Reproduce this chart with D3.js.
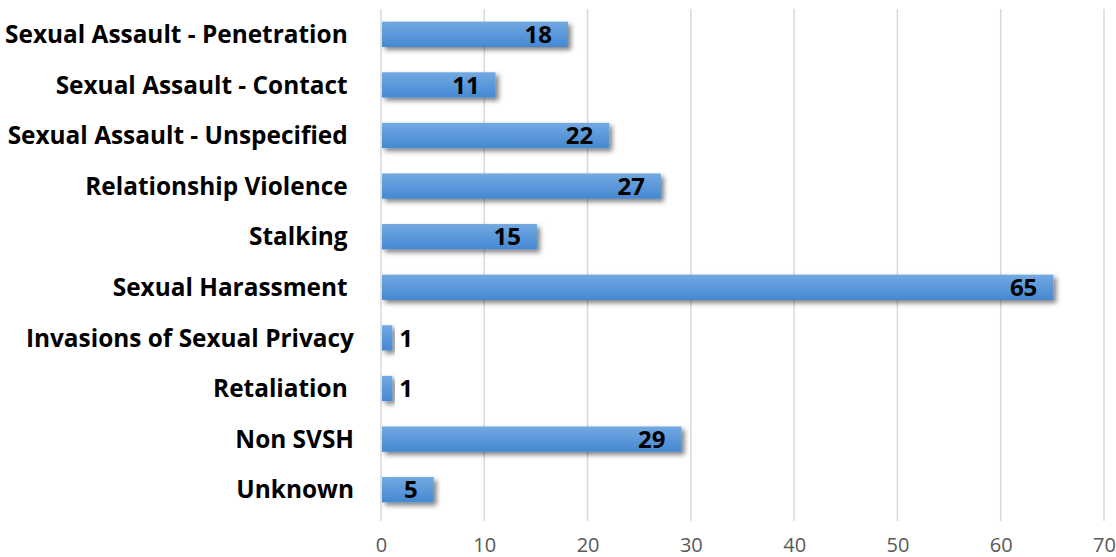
<!DOCTYPE html>
<html>
<head>
<meta charset="utf-8">
<script src="https://cdn.jsdelivr.net/npm/d3@7"></script>
<style>
  body { margin: 0; background: #fff; }
  svg { font-family: "Open Sans", Lato, sans-serif; }
</style>
</head>
<body>
<div id="chart"></div>
<script>
// categories top to bottom (trailing spaces as in source labels)
const categories = [
  "Sexual Assault - Penetration ",
  "Sexual Assault - Contact ",
  "Sexual Assault - Unspecified ",
  "Relationship Violence ",
  "Stalking ",
  "Sexual Harassment ",
  "Invasions of Sexual Privacy",
  "Retaliation ",
  "Non SVSH",
  "Unknown"
];
const counts = [18, 11, 22, 27, 15, 65, 1, 1, 29, 5];
const xTicks = [0, 10, 20, 30, 40, 50, 60, 70];

const width = 1116, height = 557;
const margin = {top: 9, right: 12, bottom: 42, left: 381};
const innerW = width - margin.left - margin.right,
      innerH = height - margin.top - margin.bottom;

const svg = d3.select("#chart").append("svg")
  .attr("width", width)
  .attr("height", height);

const defs = svg.append("defs");
const grad = defs.append("linearGradient")
  .attr("id", "barGrad")
  .attr("x1", 0).attr("y1", 0).attr("x2", 0).attr("y2", 1);
grad.append("stop").attr("offset", "0%").attr("stop-color", "#72a9e2");
grad.append("stop").attr("offset", "100%").attr("stop-color", "#4588d2");

const shadow = defs.append("filter")
  .attr("id", "shadow")
  .attr("x", "-10%").attr("y", "-30%")
  .attr("width", "130%").attr("height", "180%");
shadow.append("feDropShadow")
  .attr("dx", 3).attr("dy", 3)
  .attr("stdDeviation", 2.4)
  .attr("flood-color", "#000")
  .attr("flood-opacity", 0.5);

const g = svg.append("g").attr("transform", "translate(" + margin.left + "," + margin.top + ")");

const x = d3.scaleLinear().domain([0, 70]).range([0, innerW]);
const y = d3.scaleBand().domain(categories).range([0, innerH]).paddingInner(0.5).paddingOuter(0.25);

// gridlines
g.append("g")
  .selectAll("line")
  .data(xTicks)
  .enter().append("line")
  .attr("x1", d => x(d)).attr("x2", d => x(d))
  .attr("y1", 0).attr("y2", innerH + 6)
  .attr("stroke", "#d9d9d9")
  .attr("stroke-width", 1.5);

// x axis labels
const xAxis = g.append("g")
  .attr("transform", "translate(0," + innerH + ")")
  .call(d3.axisBottom(x).tickValues(xTicks).tickSize(0).tickPadding(23));
xAxis.select(".domain").remove();
xAxis.selectAll("text")
  .attr("font-family", "'Open Sans', sans-serif")
  .attr("font-size", 20)
  .attr("fill", "#595959");

// bars
g.append("g")
  .selectAll("rect")
  .data(counts)
  .enter().append("rect")
  .attr("x", 1)
  .attr("y", (d, i) => y(categories[i]))
  .attr("width", d => x(d))
  .attr("height", y.bandwidth())
  .attr("fill", "url(#barGrad)")
  .attr("filter", "url(#shadow)");

// value labels (outside the bar when it is too short)
g.append("g")
  .selectAll("text")
  .data(counts)
  .enter().append("text")
  .attr("x", d => d < 3 ? x(d) + 8 : x(d) - 15)
  .attr("y", (d, i) => y(categories[i]) + y.bandwidth() / 2)
  .attr("dy", "0.36em")
  .attr("text-anchor", d => d < 3 ? "start" : "end")
  .attr("font-size", 24)
  .attr("font-weight", "bold")
  .attr("fill", "#000")
  .text(d => d);

// category labels
svg.append("g")
  .selectAll("text")
  .data(categories)
  .enter().append("text")
  .attr("x", 354)
  .attr("y", d => margin.top + y(d) + y.bandwidth() / 2)
  .attr("dy", "0.36em")
  .attr("text-anchor", "end")
  .style("white-space", "pre")
  .attr("font-size", 24.4)
  .attr("font-weight", "bold")
  .attr("fill", "#000")
  .text(d => d);
</script>
</body>
</html>
